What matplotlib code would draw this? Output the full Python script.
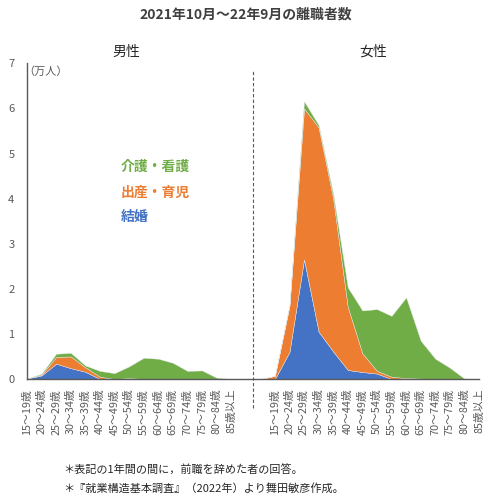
import numpy as np
import matplotlib.pyplot as plt

plt.rcParams['font.family'] = ['Noto Sans CJK JP', 'DejaVu Sans']

# age groups (same for both sexes)
ages = ['15～19歳', '20～24歳', '25～29歳', '30～34歳', '35～39歳', '40～44歳',
        '45～49歳', '50～54歳', '55～59歳', '60～64歳', '65～69歳', '70～74歳',
        '75～79歳', '80～84歳', '85歳以上']

# 万人
male_marriage = [0.01, 0.08, 0.34, 0.24, 0.16, 0, 0, 0, 0, 0, 0, 0, 0, 0, 0]
male_birth = [0, 0.02, 0.15, 0.26, 0.10, 0.05, 0, 0.02, 0, 0, 0, 0, 0, 0, 0]
male_care = [0, 0.02, 0.07, 0.08, 0.04, 0.13, 0.13, 0.26, 0.47, 0.45, 0.36, 0.18, 0.19, 0.03, 0]

female_marriage = [0, 0.60, 2.65, 1.05, 0.61, 0.20, 0.155, 0.12, 0, 0, 0, 0, 0, 0, 0]
female_birth = [0.07, 1.02, 3.35, 4.53, 3.39, 1.40, 0.415, 0.06, 0.05, 0.02, 0.01, 0, 0, 0, 0]
female_care = [0, 0.02, 0.16, 0.05, 0.10, 0.43, 0.95, 1.37, 1.35, 1.79, 0.84, 0.45, 0.25, 0.01, 0]

gap = [0, 0]
marriage = male_marriage + gap + female_marriage
birth = male_birth + gap + female_birth
care = male_care + gap + female_care
labels = ages + ['', ''] + ages
x = np.arange(len(labels))

c_blue = '#4472C4'
c_orange = '#ED7D31'
c_green = '#70AD47'
grey = '#595959'

fig = plt.figure(figsize=(4.97, 5.03), dpi=100)
ax = fig.add_axes([27 / 497, 1 - 379 / 503, (479 - 27) / 497, (379 - 63.3) / 503])

ax.stackplot(x, marriage, birth, care, colors=[c_blue, c_orange, c_green],
             edgecolor='#e8e8e8', linewidth=0.3)

ax.set_xlim(0, len(labels) - 1)
ax.set_ylim(0, 7)
ax.set_yticks(range(8))
ax.tick_params(axis='y', length=0, labelsize=8, labelcolor=grey, pad=9)
ticks = [i for i, l in enumerate(labels) if l]
ax.set_xticks(ticks)
ax.set_xticklabels([labels[i] for i in ticks], rotation=90, fontsize=7.8, color=grey)
ax.tick_params(axis='x', length=0, pad=7)
for s in ['top', 'right']:
    ax.spines[s].set_visible(False)
for s in ['left', 'bottom']:
    ax.spines[s].set_color(grey)
    ax.spines[s].set_linewidth(1)

# separator between male and female
ax.plot([15.5, 15.5], [-0.64, 6.85], color=grey, lw=0.8, ls=(0, (3, 2)), clip_on=False)

ax.text(-0.25, 6.82, '（万人）', fontsize=8, color=grey, ha='left', va='center')

ax.text(6.4, 4.7, '介護・看護', color=c_green, fontsize=10, fontweight='bold', va='center')
ax.text(6.4, 4.13, '出産・育児', color=c_orange, fontsize=10, fontweight='bold', va='center')
ax.text(6.4, 3.6, '結婚', color=c_blue, fontsize=10, fontweight='bold', va='center')

fig.text(246 / 497, 1 - 15 / 503, '2021年10月～22年9月の離職者数', ha='center', va='center',
         fontsize=10, fontweight='bold', color='#404040')
fig.text(126 / 497, 1 - 52 / 503, '男性', ha='center', va='center', fontsize=10, color='#262626')
fig.text(373 / 497, 1 - 52 / 503, '女性', ha='center', va='center', fontsize=10, color='#262626')

fig.text(63 / 497, 1 - 470 / 503, '＊表記の1年間の間に，前職を辞めた者の回答。', ha='left', va='center',
         fontsize=8, color='#262626')
fig.text(63 / 497, 1 - 488 / 503, '＊『就業構造基本調査』（2022年）より舞田敏彦作成。', ha='left', va='center',
         fontsize=8, color='#262626')

fig.savefig('out.png', dpi=100, facecolor='white')
